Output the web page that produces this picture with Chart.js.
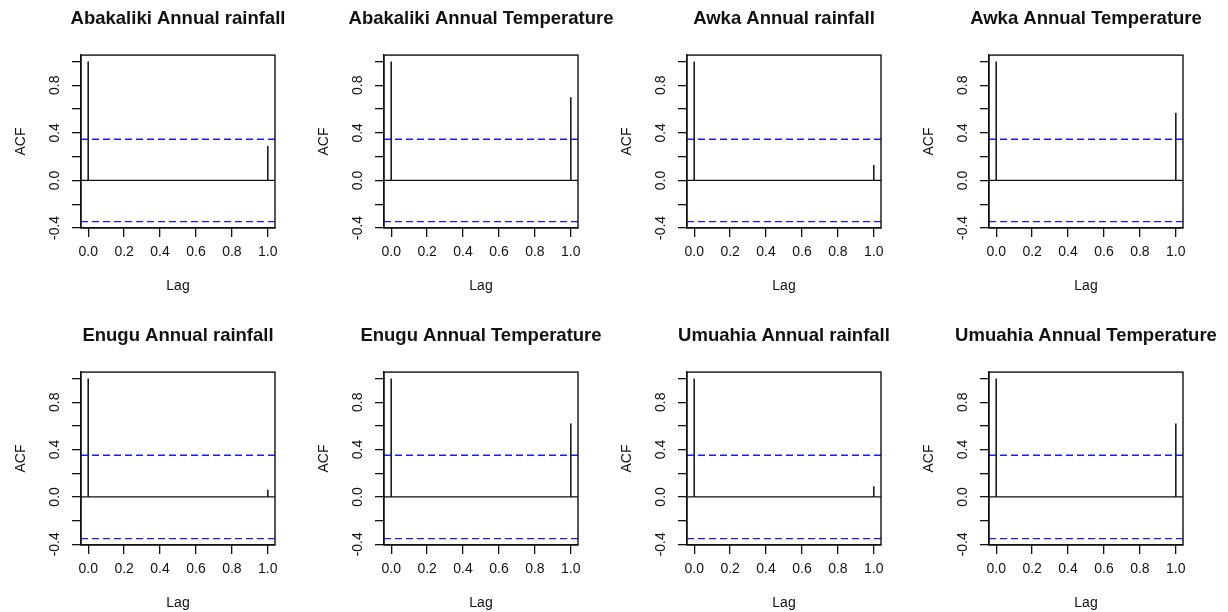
<!DOCTYPE html>
<html>
<head>
<meta charset="utf-8">
<script src="https://cdn.jsdelivr.net/npm/chart.js@4"></script>
<style>
  html, body { margin: 0; padding: 0; background: #fff; overflow: hidden; }
  #wrap { position: relative; width: 1228px; height: 612px; }
  canvas { position: absolute; }
</style>
</head>
<body>
<div id="wrap"></div>
<script>
// ---- data ----
const titles = [
  "Abakaliki Annual rainfall", "Abakaliki Annual Temperature",
  "Awka Annual rainfall", "Awka Annual Temperature",
  "Enugu Annual rainfall", "Enugu Annual Temperature",
  "Umuahia Annual rainfall", "Umuahia Annual Temperature"
];
const lags = [0, 1];
const abakalikiRain = [1, 0.29];
const abakalikiTemp = [1, 0.70];
const awkaRain = [1, 0.13];
const awkaTemp = [1, 0.57];
const enuguRain = [1, 0.06];
const enuguTemp = [1, 0.62];
const umuahiaRain = [1, 0.09];
const umuahiaTemp = [1, 0.62];
const acfSeries = [abakalikiRain, abakalikiTemp, awkaRain, awkaTemp, enuguRain, enuguTemp, umuahiaRain, umuahiaTemp];
// 95% confidence limits (dashed blue lines)
const confLimits = [0.3465, 0.3465, 0.3465, 0.3465, 0.352, 0.352, 0.352, 0.352];
const xTicks = [0, 0.2, 0.4, 0.6, 0.8, 1.0];
const yTicks = [-0.4, -0.2, 0, 0.2, 0.4, 0.6, 0.8, 1.0];
const yTickLabels = ["-0.4", "", "0.0", "", "0.4", "", "0.8", ""];
const xLabel = "Lag";
const yLabel = "ACF";

// ---- layout ----
const colLeft = [0, 303, 606, 908];
const rowTop = [0, 317];
const L = 81, T = 55, BW = 194, BH = 173, B = 78;
const FONT = "'Liberation Sans', Arial, sans-serif";

Chart.defaults.color = '#000';
Chart.defaults.font.family = FONT;

const boxPlugin = {
  id: 'rbox',
  afterDatasetsDraw(chart) {
    const a = chart.chartArea, c = chart.ctx;
    c.save();
    c.strokeStyle = '#111';
    c.lineWidth = 1.4;
    c.strokeRect(a.left, a.top, a.right - a.left, a.bottom - a.top);
    c.restore();
  }
};

const wrap = document.getElementById('wrap');
acfSeries.forEach((acf, i) => {
  const col = i % 4, row = Math.floor(i / 4);
  const cv = document.createElement('canvas');
  cv.width = L + BW + L; cv.height = T + BH + B;
  cv.style.left = colLeft[col] + 'px';
  cv.style.top = rowTop[row] + 'px';
  cv.style.width = cv.width + 'px'; cv.style.height = cv.height + 'px';
  wrap.appendChild(cv);

  const clim = confLimits[i];
  const xMin = lags[0] - (lags[lags.length - 1] - lags[0]) * 0.04;
  const xMax = lags[lags.length - 1] + (lags[lags.length - 1] - lags[0]) * 0.04;
  const lo = Math.min(-clim, ...acf), hi = Math.max(clim, ...acf);
  const yMin = lo - (hi - lo) * 0.04, yMax = hi + (hi - lo) * 0.04;

  const spikes = [];
  lags.forEach((lg, k) => {
    spikes.push({x: lg, y: 0}, {x: lg, y: acf[k]}, {x: lg, y: null});
  });

  new Chart(cv, {
    type: 'scatter',
    data: {
      datasets: [
        { data: [{x: xMin, y: 0}, {x: xMax, y: 0}], showLine: true, borderColor: '#111', borderWidth: 1.3, pointRadius: 0 },
        { data: [{x: xMin, y: clim}, {x: xMax, y: clim}], showLine: true, borderColor: '#1a1aff', borderWidth: 1.4, borderDash: [7, 4], pointRadius: 0 },
        { data: [{x: xMin, y: -clim}, {x: xMax, y: -clim}], showLine: true, borderColor: '#1a1aff', borderWidth: 1.4, borderDash: [7, 4], pointRadius: 0 },
        { data: spikes, showLine: true, spanGaps: false, borderColor: '#111', borderWidth: 1.5, pointRadius: 0 }
      ]
    },
    options: {
      responsive: false,
      animation: false,
      devicePixelRatio: 1,
      layout: { padding: 0 },
      plugins: {
        legend: { display: false },
        tooltip: { enabled: false },
        title: {
          display: true, text: titles[i], fullSize: true,
          font: { size: 18.5, weight: 'bold', family: FONT, lineHeight: 1.2 },
          padding: { top: 7.6, bottom: 25.3 }, color: '#111'
        }
      },
      scales: {
        x: {
          type: 'linear', position: 'bottom', min: xMin, max: xMax,
          afterBuildTicks: (s) => { s.ticks = xTicks.map(v => ({value: v})); },
          afterFit: (s) => { s.height = B; },
          grid: { drawOnChartArea: false, drawTicks: true, tickLength: 9, color: '#111', lineWidth: 1.3 },
          border: { display: true, color: '#111', width: 1.3 },
          ticks: { padding: 6.5, font: { size: 14, family: FONT }, color: '#111', maxRotation: 0, autoSkip: false,
                   callback: (v) => v.toFixed(1) },
          title: { display: true, text: xLabel, font: { size: 14, family: FONT, lineHeight: 1.2 }, padding: { top: 0, bottom: 11 }, color: '#111' }
        },
        y: {
          type: 'linear', position: 'left', min: yMin, max: yMax,
          afterBuildTicks: (s) => { s.ticks = yTicks.map(v => ({value: v})); },
          afterFit: (s) => { s.width = L; },
          grid: { drawOnChartArea: false, drawTicks: true, tickLength: 9, color: '#111', lineWidth: 1.3 },
          border: { display: true, color: '#111', width: 1.3 },
          ticks: { padding: 5, minRotation: 90, maxRotation: 90, crossAlign: 'center', autoSkip: false,
                   font: { size: 14, family: FONT }, color: '#111',
                   callback: (v) => { const k = yTicks.findIndex(t => Math.abs(t - v) < 1e-9); return k >= 0 ? yTickLabels[k] : ''; } },
          title: { display: true, text: yLabel, font: { size: 14, family: FONT, lineHeight: 1.2 }, padding: { top: 13, bottom: 0 }, color: '#111' }
        },
        yRight: {
          type: 'linear', position: 'right', display: true,
          afterFit: (s) => { s.width = L; },
          grid: { display: false }, border: { display: false },
          ticks: { display: false }
        }
      }
    },
    plugins: [boxPlugin]
  });
});
</script>
</body>
</html>
